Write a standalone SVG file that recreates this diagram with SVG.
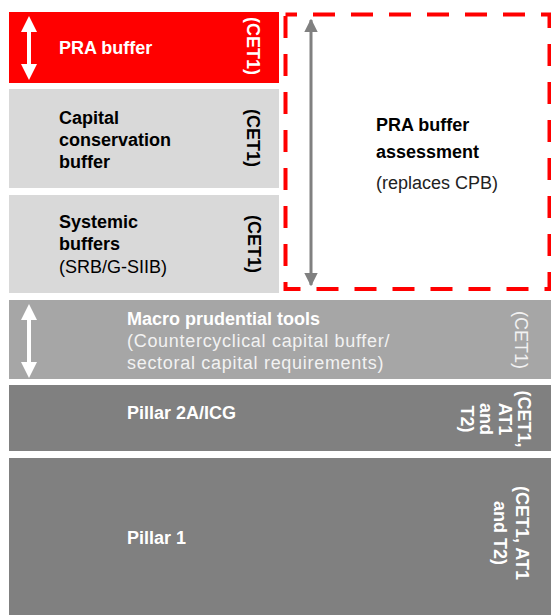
<svg xmlns="http://www.w3.org/2000/svg" width="551" height="615" viewBox="0 0 551 615">
<style>
text{font-family:"Liberation Sans",Arial,sans-serif;font-size:18px}
.b{font-weight:bold}
.w{fill:#fff}
.k{fill:#000}
.lt{fill:#f2f2f2}
.rot{text-anchor:middle}
</style>
<defs>
<marker id="ah" viewBox="0 0 10 10" refX="9" refY="5" markerWidth="4.6" markerHeight="4.6" orient="auto-start-reverse"><path d="M0,0 L10,5 L0,10 Z" fill="#808080"/></marker>
</defs>
<rect width="551" height="615" fill="#fff"/>
<g id="pra">
<rect x="9" y="12" width="270" height="71" fill="#ff0000"/>
<path d="M29,16 L37,32 L31,32 L31,64 L37,64 L29,80 L21,64 L27,64 L27,32 L21,32 Z" fill="#fff"/>
<text x="59" y="54" class="b w">PRA buffer</text>
<text class="b w rot" transform="translate(247,46) rotate(90)">(CET1)</text>
</g>
<g id="ccb">
<rect x="9" y="89" width="270" height="99" fill="#d9d9d9"/>
<text class="b k"><tspan x="59" y="124">Capital</tspan><tspan x="59" y="146">conservation</tspan><tspan x="59" y="168">buffer</tspan></text>
<text class="b k rot" transform="translate(247,138) rotate(90)">(CET1)</text>
</g>
<g id="sys">
<rect x="9" y="195" width="270" height="98" fill="#d9d9d9"/>
<text class="k"><tspan x="59" y="228" font-weight="bold">Systemic</tspan><tspan x="59" y="250" font-weight="bold">buffers</tspan><tspan x="59" y="273">(SRB/G-SIIB)</tspan></text>
<text class="b k rot" transform="translate(248,244) rotate(90)">(CET1)</text>
</g>
<g id="assess">
<rect x="285.5" y="14.5" width="264" height="274.5" fill="none" stroke="#ff0000" stroke-width="4" stroke-dasharray="22 16" stroke-dashoffset="10.5"/>
<text class="b k"><tspan x="376" y="131">PRA buffer</tspan><tspan x="376" y="158">assessment</tspan></text>
<text x="376" y="189" fill="#222">(replaces CPB)</text>
</g>
<g id="macro">
<rect x="9" y="300" width="542" height="79" fill="#a6a6a6"/>
<path d="M29,304 L37,320 L31,320 L31,362 L37,362 L29,378 L21,362 L27,362 L27,320 L21,320 Z" fill="#fff"/>
<text class="b w" x="127" y="325">Macro prudential tools</text>
<text class="lt" letter-spacing="0.7"><tspan x="127" y="347">(Countercyclical capital buffer/</tspan><tspan x="127" y="369">sectoral capital requirements)</tspan></text>
<text class="lt rot" transform="translate(515,340) rotate(90)">(CET1)</text>
</g>
<g id="p2a">
<rect x="9" y="385" width="542" height="66" fill="#808080"/>
<text class="b w" x="127" y="419">Pillar 2A/ICG</text>
<text class="b w rot" transform="translate(518,419) rotate(90)"><tspan x="0" y="0">(CET1,</tspan><tspan x="0" y="19">AT1</tspan><tspan x="0" y="38">and</tspan><tspan x="0" y="57">T2)</tspan></text>
</g>
<g id="p1">
<rect x="9" y="458" width="542" height="157" fill="#808080"/>
<text class="b w" x="127" y="544">Pillar 1</text>
<text class="b w rot" transform="translate(516,533) rotate(90)"><tspan x="0" y="0">(CET1, AT1</tspan><tspan x="0" y="22">and T2)</tspan></text>
</g>
<g id="connectors">
<line x1="311" y1="20" x2="311" y2="285" stroke="#808080" stroke-width="3" marker-start="url(#ah)" marker-end="url(#ah)"/>
</g>
</svg>
